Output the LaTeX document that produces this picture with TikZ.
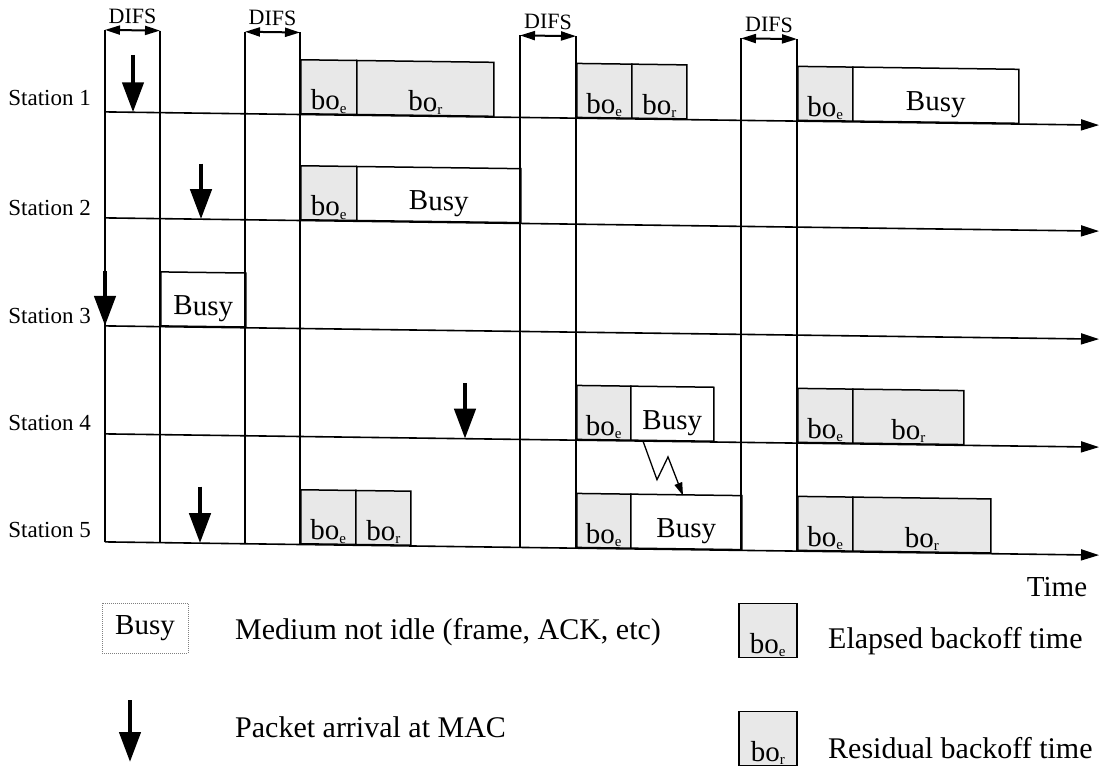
\documentclass[tikz,border=0pt]{standalone}
\usepackage{fontspec}
\setmainfont{Liberation Serif}
\usetikzlibrary{arrows.meta,calc}
\tikzset{
  ln/.style={line width=1.6pt},
  axisline/.style={line width=1.6pt,-{Triangle[length=18pt,width=11pt]}},
  difsarrow/.style={line width=2pt,{Triangle[length=15pt,width=9pt]}-{Triangle[length=15pt,width=9pt]}},
  pkt/.style={line width=4.5pt,-{Triangle[length=30pt,width=21pt]}},
  zig/.style={line width=1.3pt,-{Triangle[length=13pt,width=8pt]}},
  bobox/.style={draw,line width=1.5pt,fill=black!9,inner sep=0pt,anchor=south west,minimum height=54pt},
  busybox/.style={draw,line width=1.5pt,fill=white,inner sep=0pt,anchor=south west,minimum height=54pt},
  botxt/.style={inner sep=0pt,anchor=base,font=\fontsize{29}{29}\selectfont},
  busytxt/.style={inner sep=0pt,anchor=base,font=\fontsize{29}{29}\selectfont},
  stlabel/.style={inner sep=0pt,anchor=east,font=\fontsize{23}{23}\selectfont},
  difstxt/.style={inner sep=0pt,font=\fontsize{22}{22}\selectfont},
  legtxt/.style={inner sep=0pt,anchor=west,font=\fontsize{30}{30}\selectfont},
}
\newcommand\bosub[1]{bo\raisebox{-3pt}{\fontsize{15}{15}\selectfont #1}}
% box with backoff label: name, x, width, axis y, subscript
\newcommand\bobx[5]{%
  \node[bobox,minimum width=#3pt] (#1) at (#2,#4) {};
  \node[botxt] (#1t) at ($(#1.south)+(0,-5)$) {\bosub{#5}};}
% busy box: name, x, width, axis y
\newcommand\busybx[4]{%
  \node[busybox,minimum width=#3pt] (#1) at (#2,#4) {};
  \node[busytxt] (#1t) at ($(#1.south)+(0,-12)$) {Busy};}
\begin{document}
\begin{tikzpicture}[x=1pt,y=-1pt]
\fill[white] (0,0) rectangle (1105,768);
\useasboundingbox (0,0) rectangle (1105,768);

% station labels
\node[stlabel] (st1) at (91,98) {Station 1};
\node[stlabel] (st2) at (91,208) {Station 2};
\node[stlabel] (st3) at (91,316) {Station 3};
\node[stlabel] (st4) at (91,423) {Station 4};
\node[stlabel] (st5) at (91,530) {Station 5};

\begin{scope}[cm={1,-0.0133,0,1,(0,0)},transform shape]
  % boxes
  \bobx{a1}{300}{56}{110.5}{e}
  \bobx{a2}{356}{137}{110.5}{r}
  \bobx{a3}{576}{55}{110.5}{e}
  \bobx{a4}{631}{55}{110.5}{r}
  \bobx{a5}{797}{55}{110.5}{e}
  \busybx{a6}{852}{166}{110.5}

  \bobx{b1}{300}{56}{216.5}{e}
  \busybx{b2}{356}{164}{216.5}

  \busybx{c1}{160}{85}{324.5}

  \bobx{d1}{576}{54}{432.5}{e}
  \busybx{d2}{630}{83}{432.5}
  \bobx{d3}{797}{55}{432.5}{e}
  \bobx{d4}{852}{111}{432.5}{r}

  \bobx{e1}{300}{55}{540.5}{e}
  \bobx{e2}{355}{55}{540.5}{r}
  \bobx{e3}{576}{54}{540.5}{e}
  \busybx{e4}{630}{111}{540.5}
  \bobx{e5}{797}{55}{540.5}{e}
  \bobx{e6}{852}{138}{540.5}{r}

  % vertical lines
  \foreach \n/\x in {1/105,2/160,3/245,4/300,5/520,6/576,7/741,8/797} {
    \coordinate (v\n t) at (\x,28.5);
    \coordinate (v\n b) at (\x,540.5);
    \draw[ln] (v\n t) -- (v\n b);
  }

  % time axes
  \foreach \n/\y in {1/110.5,2/216.5,3/324.5,4/432.5,5/540.5} {
    \coordinate (s\n l) at (105,\y);
    \coordinate (s\n r) at (1099,\y);
    \draw[axisline] (s\n l) -- (s\n r);
  }

  % DIFS
  \foreach \i/\j/\k in {1/1/2,2/3/4,3/5/6,4/7/8} {
    \draw[difsarrow] (v\j t) -- (v\k t);
    \node[difstxt] (difs\i) at ($(v\j t)!0.5!(v\k t)+(0,-14)$) {DIFS};
  }

  % packet arrivals
  \foreach \n/\x/\yt/\yb in {1/133/53/110.5,2/201/161/216.5,3/105/270/324.5,4/465/377/432.5,5/200/484/540.5} {
    \coordinate (p\n t) at (\x,\yt);
    \coordinate (p\n b) at (\x,\yb);
    \draw[pkt] (p\n t) -- (p\n b);
  }

  % interference zigzag
  \coordinate (z0) at (643,432.5);
  \coordinate (z1) at (657,471);
  \coordinate (z2) at (668,448);
  \coordinate (z3) at (683,486.5);
  \draw[zig] (z0) -- (z1) -- (z2) -- (z3);
\end{scope}

\node[inner sep=0pt,font=\fontsize{29}{29}\selectfont] (time) at (1057,587) {Time};

% legend
\node[draw=gray,densely dotted,line width=1pt,minimum width=86pt,minimum height=50pt,inner sep=0pt,font=\fontsize{29}{29}\selectfont] (lbusy) at (145,628) {Busy};
\node[legtxt] (lbusyt) at (235,632) {Medium not idle (frame, ACK, etc)};
\coordinate (lat) at (130,700);
\coordinate (lab) at (130,762);
\draw[pkt] (lat) -- (lab);
\node[legtxt] (lpkt) at (235,727) {Packet arrival at MAC};
\bobx{le}{738}{58}{658}{e}
\node[legtxt] (let) at (828,641) {Elapsed backoff time};
\bobx{lr}{738}{58}{766}{r}
\node[legtxt] (lrt) at (828,748) {Residual backoff time};
\end{tikzpicture}
\end{document}
